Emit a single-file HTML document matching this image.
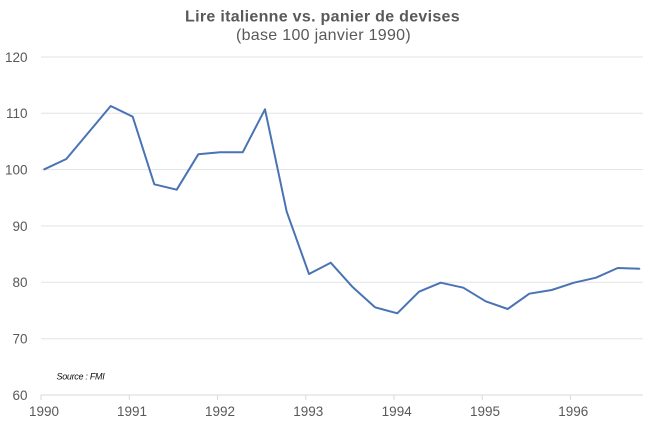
<!DOCTYPE html>
<html>
<head>
<meta charset="utf-8">
<style>
  html,body{margin:0;padding:0;background:#fff;}
  svg{display:block;}
  text{font-family:"Liberation Sans",Arial,sans-serif;}
</style>
</head>
<body>
<svg width="651" height="424" viewBox="0 0 651 424" xmlns="http://www.w3.org/2000/svg">
  <rect width="651" height="424" fill="#ffffff"/>
  <!-- Title -->
  <text x="322.5" y="21.5" text-anchor="middle" font-size="16" font-weight="bold" fill="#595959" letter-spacing="0.3">Lire italienne vs. panier de devises</text>
  <text x="323.5" y="40" text-anchor="middle" font-size="16" fill="#595959" letter-spacing="0.3">(base 100 janvier 1990)</text>

  <!-- Gridlines -->
  <g stroke="#e3e3e3" stroke-width="1">
    <line x1="41" y1="57" x2="643" y2="57"/>
    <line x1="41" y1="113.3" x2="643" y2="113.3"/>
    <line x1="41" y1="169.6" x2="643" y2="169.6"/>
    <line x1="41" y1="226" x2="643" y2="226"/>
    <line x1="41" y1="282.3" x2="643" y2="282.3"/>
    <line x1="41" y1="338.7" x2="643" y2="338.7"/>
  </g>
  <!-- X axis -->
  <line x1="41" y1="395" x2="643" y2="395" stroke="#d9d9d9" stroke-width="1"/>
  <g stroke="#d9d9d9" stroke-width="1">
    <line x1="41" y1="395" x2="41" y2="400"/>
    <line x1="129.3" y1="395" x2="129.3" y2="400"/>
    <line x1="217.6" y1="395" x2="217.6" y2="400"/>
    <line x1="305.8" y1="395" x2="305.8" y2="400"/>
    <line x1="394" y1="395" x2="394" y2="400"/>
    <line x1="482.2" y1="395" x2="482.2" y2="400"/>
    <line x1="570.4" y1="395" x2="570.4" y2="400"/>
  </g>

  <!-- Y labels -->
  <g font-size="13.5" fill="#595959" text-anchor="end">
    <text x="27.5" y="61.8">120</text>
    <text x="27.5" y="118.1">110</text>
    <text x="27.5" y="174.4">100</text>
    <text x="27.5" y="230.8">90</text>
    <text x="27.5" y="287.1">80</text>
    <text x="27.5" y="343.5">70</text>
    <text x="27.5" y="399.8">60</text>
  </g>

  <!-- X labels -->
  <g font-size="13.5" fill="#595959" text-anchor="middle">
    <text x="44" y="416">1990</text>
    <text x="132" y="416">1991</text>
    <text x="220" y="416">1992</text>
    <text x="308.3" y="416">1993</text>
    <text x="396.7" y="416">1994</text>
    <text x="485" y="416">1995</text>
    <text x="573.3" y="416">1996</text>
  </g>

  <!-- Source -->
  <text x="56.5" y="379.5" font-size="9" font-style="italic" fill="#111" letter-spacing="-0.3">Source : FMI</text>

  <!-- Series -->
  <polyline fill="none" stroke="#4a73b4" stroke-width="2" stroke-linejoin="round" stroke-linecap="round"
    points="44.3,169.3 66.3,159 88.5,132.5 110.7,106 132.7,116.7 154.3,184.3 176.7,189.7 198.3,154.3 220,152.3 242.7,152.3 265,109.3 286.7,211.7 309,274 330.7,262.7 352.3,286.7 375,307.3 397.3,313.3 419,291.7 440.7,282.7 463.3,287.7 485.7,301.3 507.7,309 529.3,293.7 551.7,290 574,282.7 596,277.7 617.7,268 639.3,268.7"/>
</svg>
</body>
</html>
